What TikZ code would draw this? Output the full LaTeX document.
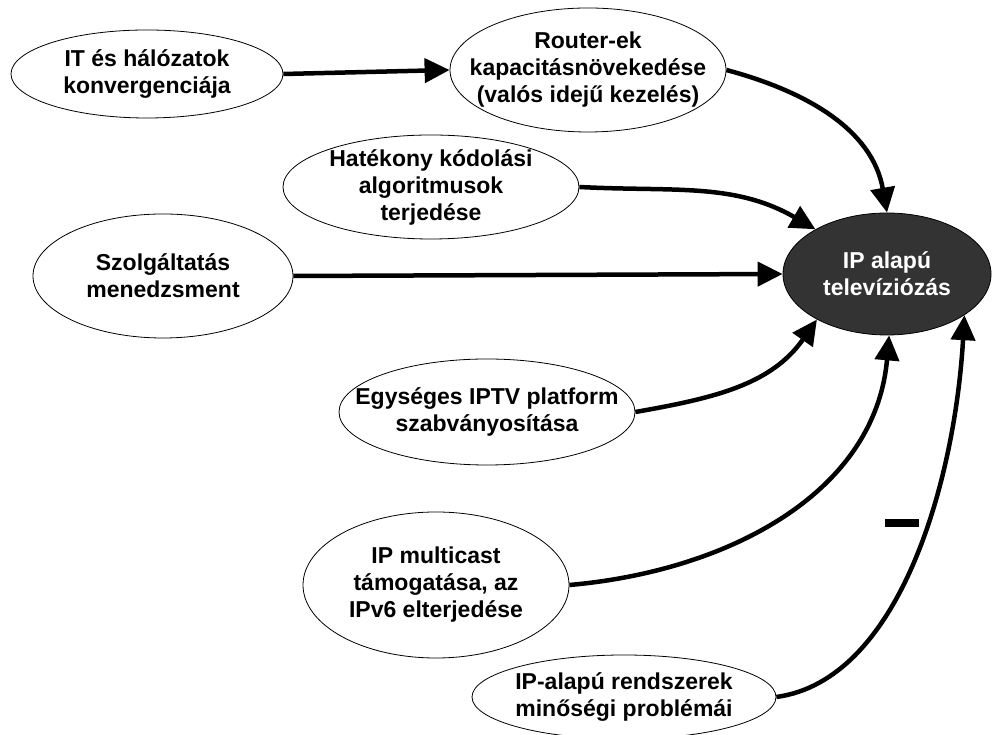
\documentclass[tikz,border=0pt]{standalone}
\usepackage{fontspec}
\setmainfont{Liberation Sans}
\usetikzlibrary{arrows.meta,shapes.geometric}
\definecolor{darkfill}{HTML}{333333}
\begin{document}
\begin{tikzpicture}[x=1pt,y=1pt,
  el/.style={ellipse,draw,line width=0.8pt,inner sep=0pt,fill=white},
  lbl/.style={align=center,font=\fontsize{23}{27}\selectfont\bfseries,inner sep=0pt},
  conn/.style={line width=4.5pt,-{Triangle[length=25pt,width=24pt]}},
]
\useasboundingbox (0,0) rectangle (992,735);

\node[el,minimum width=272pt,minimum height=88pt] (it) at (147,661) {};
\node[lbl] (itt) at (it) {IT és hálózatok\\konvergenciája};

\node[el,minimum width=276pt,minimum height=124pt] (rt) at (588,665) {};
\node[lbl] (rtt) at (rt) {Router-ek\\kapacitásnövekedése\\(valós idejű kezelés)};

\node[el,minimum width=296pt,minimum height=104pt] (hk) at (431,548) {};
\node[lbl] (hkt) at (hk) {Hatékony kódolási\\algoritmusok\\terjedése};

\node[el,minimum width=260pt,minimum height=124pt] (sz) at (163,459) {};
\node[lbl] (szt) at (sz) {Szolgáltatás\\menedzsment};

\node[el,fill=darkfill,minimum width=208pt,minimum height=122pt] (ip) at (887,461) {};
\node[lbl,text=white] (ipt) at (ip) {IP alapú\\televíziózás};

\node[el,minimum width=296pt,minimum height=106pt] (eg) at (487,323) {};
\node[lbl] (egt) at (eg) {Egységes IPTV platform\\szabványosítása};

\node[el,minimum width=266pt,minimum height=146pt] (mc) at (436,150) {};
\node[lbl] (mct) at (mc) {IP multicast\\támogatása, az\\IPv6 elterjedése};

\node[el,minimum width=304pt,minimum height=84pt] (pa) at (624,38) {};
\node[lbl] (pat) at (pa) {IP-alapú rendszerek\\minőségi problémái};

\node[fill,minimum width=34pt,minimum height=8pt,inner sep=0pt] (minus) at (902,212) {};

\draw[conn] (it.east) -- (rt.west);
\draw[conn] (rt.east) to[out=-15,in=100] (ip.north);
\draw[conn] (hk.east) to[out=-3,in=150] (ip.148);
\draw[conn] (sz.east) -- (ip.west);
\draw[conn] (eg.east) to[out=10,in=235] (ip.213);
\draw[conn] (mc.east) to[out=5,in=265] (ip.-88);
\draw[conn] (pa.east) .. controls (900,55) and (955,255) .. (ip.-28);
\end{tikzpicture}
\end{document}
